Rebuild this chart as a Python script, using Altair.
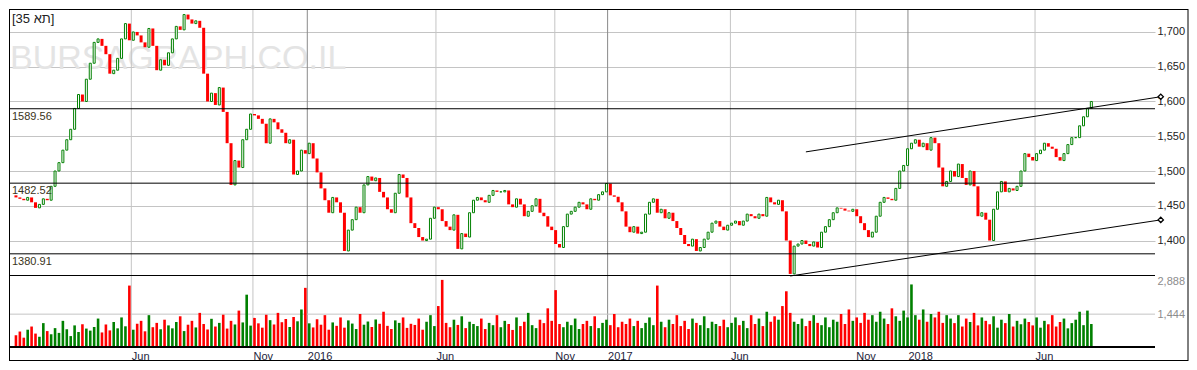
import altair as alt
import pandas as pd

# ---------------- data ----------------
close = [
    1462, 1460, 1458, 1462, 1455, 1447, 1452, 1460, 1458, 1478,
    1500, 1512, 1530, 1545, 1560, 1590, 1610, 1600, 1632, 1655,
    1685, 1690, 1680, 1668, 1640, 1645, 1662, 1690, 1712, 1688,
    1700, 1695, 1685, 1678, 1705, 1680, 1645, 1660, 1652, 1670,
    1690, 1708, 1703, 1725, 1718, 1712, 1716, 1706, 1640, 1600,
    1612, 1595, 1620, 1585, 1540, 1480, 1515, 1505, 1545, 1560,
    1582, 1580, 1575, 1568, 1540, 1575, 1570, 1560, 1555, 1540,
    1545, 1495, 1500, 1530, 1525, 1540, 1518, 1498, 1475, 1458,
    1440, 1462, 1455, 1440, 1385, 1415, 1430, 1448, 1440, 1480,
    1492, 1486, 1490, 1470, 1462, 1445, 1440, 1468, 1495, 1490,
    1462, 1425, 1418, 1405, 1400, 1402, 1432, 1448, 1445, 1428,
    1420, 1415, 1437, 1388, 1410, 1405, 1440, 1458, 1462, 1458,
    1455, 1465, 1472, 1470, 1470, 1472, 1452, 1448, 1460, 1452,
    1435, 1442, 1450, 1460, 1440, 1435, 1420, 1415, 1395, 1390,
    1420, 1438, 1442, 1448, 1455, 1452, 1445, 1460, 1458, 1466,
    1470, 1482, 1465, 1463, 1455, 1442, 1420, 1412, 1420, 1410,
    1412, 1438, 1455, 1460, 1440, 1445, 1432, 1440, 1428, 1418,
    1408, 1395, 1392, 1402, 1385, 1390, 1402, 1412, 1425, 1428,
    1420, 1415, 1422, 1425, 1428, 1422, 1428, 1438, 1435, 1432,
    1438, 1435, 1462, 1455, 1452, 1458, 1442, 1400, 1352, 1392,
    1395, 1400, 1395, 1392, 1398, 1390, 1412, 1420, 1430, 1440,
    1447, 1446, 1443, 1442, 1445, 1435, 1425, 1415, 1405, 1412,
    1435, 1455, 1462, 1460, 1458, 1475, 1500, 1508, 1532, 1540,
    1545, 1535, 1540, 1530, 1548, 1540, 1505, 1478, 1485, 1500,
    1492, 1510, 1490, 1480, 1500, 1478, 1435, 1440, 1430, 1400,
    1445, 1470, 1485, 1470, 1475, 1472, 1478, 1500, 1525, 1520,
    1515, 1525, 1530, 1540, 1535, 1532, 1520, 1515, 1525, 1538,
    1548, 1548, 1565, 1578, 1590, 1600,
]
first_open = 1465

volume = [
    520, 680, 410, 760, 900, 590, 450, 1050, 700, 560, 830, 620, 1150, 780, 480, 950, 660, 1000, 810, 720,
    880, 1250, 640, 990, 730, 1100, 820, 1300, 910, 2700, 760, 1020, 1150, 690, 1400, 870, 1060, 780, 1200, 950,
    820, 1100, 1350, 700, 980, 1150, 860, 1500, 1010, 770, 1240, 900, 1060, 1420, 810, 1150, 990, 1600, 1080, 2300,
    940, 1280, 1040, 850, 1420, 1180, 990, 1500, 1090, 1230, 880, 1320, 1130, 1650, 2600, 1040, 860, 1220, 980, 1400,
    760, 1080, 930, 1300, 850, 1170, 1030, 790, 1450, 980, 1120, 880, 1210, 1020, 1550, 930, 790, 1170, 1060, 1300,
    840, 1020, 970, 1250, 760, 1110, 1400, 920, 1800, 2950, 1060, 870, 1200, 970, 1350, 830, 1110, 1010, 920, 1250,
    790, 1060, 960, 1400, 870, 1150, 1010, 750, 1300, 920, 1110, 1500, 960, 830, 1200, 1050, 1700, 1150, 2500, 1010,
    870, 1110, 960, 1250, 790, 1010, 1150, 920, 1350, 830, 1060, 1200, 960, 1450, 870, 1110, 1010, 1250, 920, 1150,
    830, 1060, 1300, 960, 2700, 1110, 870, 1200, 1010, 1400, 920, 1150, 790, 1250, 1060, 960, 1350, 830, 1110, 1010,
    920, 1200, 870, 1060, 1300, 960, 1150, 830, 1400, 1010, 1250, 920, 1550, 1110, 1350, 1200, 1800, 2450, 1500, 1110,
    1010, 1250, 920, 1150, 1400, 1060, 960, 1300, 870, 1200, 1110, 1450, 1010, 1650, 1150, 1300, 1060, 1500, 1200, 1400,
    1110, 1550, 1250, 1010, 1700, 1350, 1150, 1600, 1300, 2750, 1400, 1200, 1650, 1110, 1450, 1300, 1550, 1060, 1400, 1250,
    1050, 1400, 900, 1250, 1100, 1500, 950, 1300, 1150, 1000, 1350, 850, 1200, 1050, 1450, 900, 1150, 1000, 1250, 1100,
    950, 1300, 850, 1150, 1000, 1400, 900, 1100, 1250, 820, 1050, 1200, 1550, 960, 1600, 1010,
]

# x-axis ticks (positions in trading-session units) and their labels
tick_pos = [29.5, 60.6, 74.5, 107.4, 137.8, 151.3, 182.7, 214.75, 228.1, 260.6]
tick_lbl = ["Jun", "Nov", "2016", "Jun", "Nov", "2017", "Jun", "Nov", "2018", "Jun"]
tick_kind = ["m", "m", "y", "m", "m", "y", "m", "m", "y", "m"]

price_ticks = [1400, 1450, 1500, 1550, 1600, 1650, 1700]
vol_ticks = [1444, 2888]
levels = [1589.56, 1482.52, 1380.91]
level_lbl = ["1589.56", "1482.52", "1380.91"]

trend_x = [202, 292.75, 198, 292.75]
trend_y = [1527.5, 1606.8, 1349, 1429.7]
trend_id = ["upper", "upper", "lower", "lower"]

# shown left-to-right exactly as in the reference
title_text = "\u202d[35 את]\u202c"
watermark = "BURSAGRAPH.CO.IL"

# ---------------- layout constants ----------------
W = 1146
HP = 267
HV = 71
XR = W + 33
FONT = "Liberation Sans"
GREEN = "#008000"
RED = "#ff0000"

n = min(len(close), len(volume))
opens = [first_open] + close[: n - 1]
df = pd.DataFrame({
    "t": list(range(n)),
    "open": opens[:n],
    "close": close[:n],
    "volume": volume[:n],
})
df["lo"] = df[["open", "close"]].min(axis=1)
df["hi"] = df[["open", "close"]].max(axis=1)
df["up"] = df["close"] >= df["open"]

grid_df = pd.DataFrame({"pos": tick_pos, "kind": tick_kind})
lev_df = pd.DataFrame({"level": levels, "label": level_lbl})
trend_df = pd.DataFrame({"x": trend_x, "y": trend_y, "id": trend_id})
end_df = trend_df.iloc[[1, 3]]
one = pd.DataFrame({"a": [0]})

xscale = alt.Scale(domain=[-0.5, 290], nice=False, zero=False)
pscale = alt.Scale(domain=[1349, 1733], nice=False, zero=False)
vscale = alt.Scale(domain=[0, 3121], nice=False, zero=True)

paxis = alt.Axis(orient="right", values=price_ticks, format=",d", grid=True,
                 gridColor="#c4c4c4", gridWidth=1, ticks=False, domain=False,
                 labelPadding=2, labelFontSize=11, labelColor="#222222",
                 labelFont=FONT, title=None)

expr = "''"
for p, l in reversed(list(zip(tick_pos, tick_lbl))):
    expr = f"datum.value == {p} ? '{l}' : ({expr})"

xaxis = alt.Axis(values=tick_pos, labelExpr=expr, labelAlign="left", labelBaseline="top",
                 labelPadding=3, ticks=False, domain=False, grid=False,
                 labelFontSize=11, labelColor="#1e1e3c", labelFont=FONT,
                 labelFlush=False, labelOverlap=False, title=None)

vaxis = alt.Axis(orient="right", values=vol_ticks, format=",d", grid=False, ticks=False,
                 domain=False, labelPadding=2, labelFontSize=11, labelColor="#8c8c8c",
                 labelFont=FONT, title=None)


def py(field):
    return alt.Y(field, type="quantitative", scale=pscale, axis=paxis)


vgrid_color = alt.Color("kind:N", scale=alt.Scale(domain=["m", "y"], range=["#c4c4c4", "#8a8a8a"]),
                        legend=None)

# ---------------- price panel ----------------
wm = alt.Chart(one).mark_text(text=watermark, align="left", baseline="alphabetic",
                              fontSize=34, font=FONT, color="#e4e4e4").encode(
    x=alt.value(1), y=alt.value(60))

vgrid_p = alt.Chart(grid_df).mark_rule(strokeWidth=1).encode(
    x=alt.X("pos:Q", scale=xscale, axis=None), color=vgrid_color)

up_c = alt.Chart(df).transform_filter("datum.up").mark_bar(
    size=2, fill="white", stroke=GREEN, strokeWidth=1).encode(
    x=alt.X("t:Q", scale=xscale, axis=None), y=py("lo"), y2="hi:Q")

dn_c = alt.Chart(df).transform_filter("!datum.up").mark_bar(size=3, color=RED).encode(
    x=alt.X("t:Q", scale=xscale, axis=None), y=py("lo"), y2="hi:Q")

lev_r = alt.Chart(lev_df).mark_rule(color="black", strokeWidth=1).encode(
    y=py("level"), x=alt.value(0), x2=alt.value(W))

lev_t = alt.Chart(lev_df).mark_text(align="left", baseline="top", dx=3, dy=2,
                                    fontSize=11, font=FONT, color="#3a3420").encode(
    y=py("level"), x=alt.value(0), text="label:N")

trend = alt.Chart(trend_df).mark_line(color="black", strokeWidth=1).encode(
    x=alt.X("x:Q", scale=xscale, axis=None), y=py("y"), detail="id:N")

ends = alt.Chart(end_df).mark_point(shape="diamond", filled=True, fill="white", stroke="black",
                                    strokeWidth=1.3, size=28, opacity=1).encode(
    x=alt.X("x:Q", scale=xscale, axis=None), y=py("y"))

frame_top = alt.Chart(one).mark_rule(color="black").encode(
    x=alt.value(0), x2=alt.value(XR), y=alt.value(0.5))
frame_l = alt.Chart(one).mark_rule(color="black").encode(
    x=alt.value(0.5), y=alt.value(0), y2=alt.value(HP))
frame_r = alt.Chart(one).mark_rule(color="black").encode(
    x=alt.value(XR), y=alt.value(0), y2=alt.value(HP))
sep = alt.Chart(one).mark_rule(color="black").encode(
    x=alt.value(0), x2=alt.value(W), y=alt.value(HP - 0.5))

ttl = alt.Chart(one).mark_text(text=title_text, align="left", baseline="middle",
                               fontSize=13, font=FONT, color="#222222").encode(
    x=alt.value(3), y=alt.value(10))

price = alt.layer(wm, vgrid_p, up_c, dn_c, lev_r, lev_t, trend, ends,
                  frame_top, frame_l, frame_r, sep, ttl).properties(width=W, height=HP)

# ---------------- volume panel ----------------
vgrid_v = alt.Chart(grid_df).mark_rule(strokeWidth=1).encode(
    x=alt.X("pos:Q", scale=xscale, axis=xaxis), color=vgrid_color)

vline = alt.Chart(pd.DataFrame({"v": [vol_ticks[0]]})).mark_rule(color="#c4c4c4").encode(
    y=alt.Y("v:Q", scale=vscale, axis=vaxis))

vbars = alt.Chart(df).mark_bar(size=2.6).encode(
    x=alt.X("t:Q", scale=xscale, axis=xaxis),
    y=alt.Y("volume:Q", scale=vscale, axis=vaxis),
    color=alt.condition("datum.up", alt.value(GREEN), alt.value(RED)))

base = alt.Chart(one).mark_rule(color="black", strokeWidth=2).encode(
    x=alt.value(0), x2=alt.value(W), y=alt.value(HV))
fl = alt.Chart(one).mark_rule(color="black").encode(
    x=alt.value(0.5), y=alt.value(0), y2=alt.value(HV + 14))
fr = alt.Chart(one).mark_rule(color="black").encode(
    x=alt.value(XR), y=alt.value(0), y2=alt.value(HV + 14))
fb = alt.Chart(one).mark_rule(color="black").encode(
    x=alt.value(0), x2=alt.value(XR), y=alt.value(HV + 13.5))

vol = alt.layer(vgrid_v, vline, vbars, base, fl, fr, fb).properties(width=W, height=HV)

chart = alt.vconcat(price, vol, spacing=0, bounds="flush").properties(
    padding=0
).configure_view(strokeWidth=0).configure_axis(labelFont=FONT)

chart.save("out.html", embed_options={"renderer": "svg", "actions": False})
